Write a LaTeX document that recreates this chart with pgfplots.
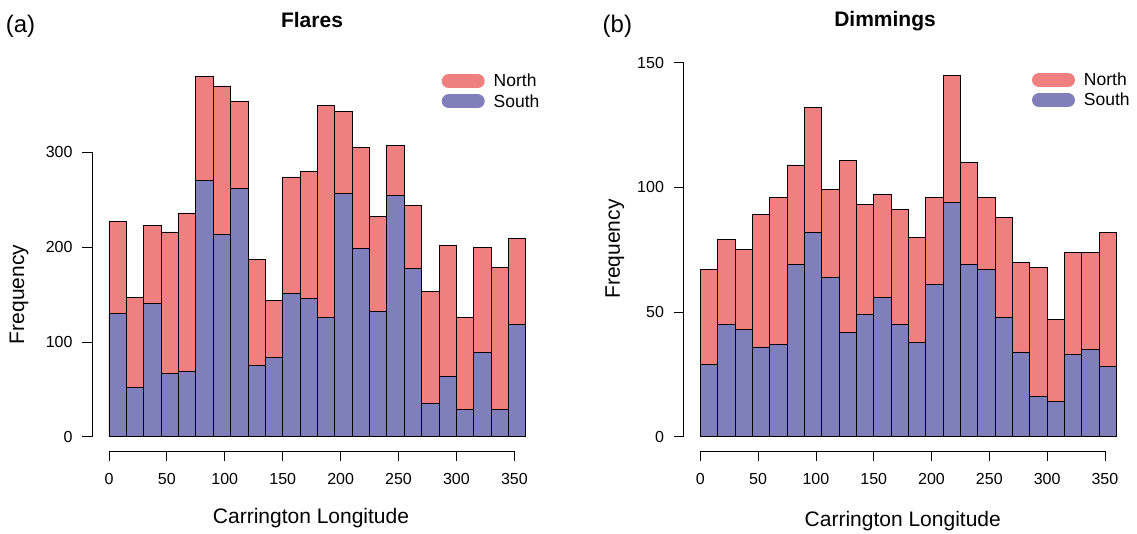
\documentclass[border=0pt]{standalone}
\usepackage{fontspec}
\setmainfont{Liberation Sans}
\usepackage{pgfplots}
\pgfplotsset{compat=1.18}
\usepackage{pgfplotstable}
\definecolor{northc}{RGB}{240,128,128}
\definecolor{southc}{RGB}{127,127,187}

% bin left edge, Flares North(total), Flares South, Dimmings North(total), Dimmings South
\pgfplotstableread{
lon flN flS dmN dmS
0   227 130 67 29
15  147 52  79 45
30  223 141 75 43
45  216 67  89 36
60  236 69  96 37
75  380 270 109 69
90  370 213 132 82
105 354 262 99 64
120 187 75  111 42
135 144 84  93 49
150 274 151 97 56
165 280 146 91 45
180 349 126 80 38
195 343 257 96 61
210 305 199 145 94
225 232 132 110 69
240 307 254 96 67
255 244 177 88 48
270 153 35  70 34
285 202 64  68 16
300 126 29  47 14
315 200 89  74 33
330 179 29  74 35
345 209 118 82 28
360 209 118 82 28
}\data

\pgfplotsset{
  rstyle/.style={
    scale only axis, clip=false,
    axis lines*=left,
    axis line style={draw=none},
    xmin=-14.4, xmax=374.4,
    xtick={0,50,...,350},
    tick align=outside,
    major tick length=10pt,
    tick style={black, line width=0.8pt},
    minor tick num=0,
    /pgf/number format/assume math mode=true,
    ticklabel style={font=\fontsize{16}{16}\selectfont},
    xticklabel style={anchor=base, inner sep=0pt, yshift=-23.3pt},
    yticklabel style={anchor=east, inner sep=0pt, xshift=-9.6pt},
    label style={font=\fontsize{21}{21}\selectfont},
    legend style={draw=none, fill=none, anchor=north west, inner sep=0pt, outer sep=0pt,
      font=\fontsize{17.5}{17.5}\selectfont, row sep=6pt,
      nodes={inner sep=0pt, anchor=west},
      /tikz/every odd column/.append style={column sep=9pt}},
    legend cell align=left,
  },
  nleg/.style={legend image code/.code={\draw[line width=14pt, line cap=round, draw=northc] (7pt,0pt) -- (36pt,0pt);}},
  sleg/.style={legend image code/.code={\draw[line width=14pt, line cap=round, draw=southc] (7pt,0pt) -- (36pt,0pt);}},
}

\begin{document}
\begin{tikzpicture}
\path[use as bounding box] (0pt,0pt) rectangle (1137pt,534pt);

% ---------- (a) Flares ----------
\begin{axis}[rstyle,
  at={(92.3pt,82.9pt)}, anchor=south west,
  width=450.3pt, height=389pt,
  ymin=-15.2, ymax=395.2,
  ytick={0,100,200,300},
  xlabel={Carrington Longitude},
  xlabel style={at={(axis description cs:0.4857,-0.1856)}, anchor=base},
  ylabel={Frequency},
  ylabel style={at={(axis description cs:-0.1628,0.4026)}, anchor=center, rotate=0},
  legend style={at={(axis description cs:0.776,0.969)}},
]
\addplot[ybar interval, fill=northc, draw=black, line width=0.9pt, nleg] table[x=lon,y=flN]{\data};
\addlegendentry{North}
\addplot[ybar interval, fill=southc, draw=black, line width=0.9pt, sleg] table[x=lon,y=flS]{\data};
\addlegendentry{South}
\draw[black, line width=0.8pt] (axis cs:0,-15.2) -- (axis cs:350,-15.2);
\draw[black, line width=0.8pt] (axis cs:-14.4,0) -- (axis cs:-14.4,300);
\end{axis}

% ---------- (b) Dimmings ----------
\begin{axis}[rstyle,
  at={(683.7pt,82.8pt)}, anchor=south west,
  width=449.4pt, height=390.4pt,
  ymin=-5.8, ymax=150.8,
  ytick={0,50,100,150},
  xlabel={Carrington Longitude},
  xlabel style={at={(axis description cs:0.4875,-0.194)}, anchor=base},
  ylabel={Frequency},
  ylabel style={at={(axis description cs:-0.153,0.518)}, anchor=center, rotate=0},
  legend style={at={(axis description cs:0.775,0.969)}},
]
\addplot[ybar interval, fill=northc, draw=black, line width=0.9pt, nleg] table[x=lon,y=dmN]{\data};
\addlegendentry{North}
\addplot[ybar interval, fill=southc, draw=black, line width=0.9pt, sleg] table[x=lon,y=dmS]{\data};
\addlegendentry{South}
\draw[black, line width=0.8pt] (axis cs:0,-5.8) -- (axis cs:350,-5.8);
\draw[black, line width=0.8pt] (axis cs:-14.4,0) -- (axis cs:-14.4,150);
\end{axis}

% titles and panel letters
\node[anchor=base, font=\bfseries\fontsize{21}{21}\selectfont] at (312pt,506.7pt) {Flares};
\node[anchor=base, font=\bfseries\fontsize{21}{21}\selectfont] at (885pt,507pt) {Dimmings};
\node[anchor=base west, inner sep=0pt, font=\fontsize{24}{24}\selectfont] at (5.6pt,501pt) {(a)};
\node[anchor=base west, inner sep=0pt, font=\fontsize{24}{24}\selectfont] at (602.5pt,501pt) {(b)};
\end{tikzpicture}
\end{document}
